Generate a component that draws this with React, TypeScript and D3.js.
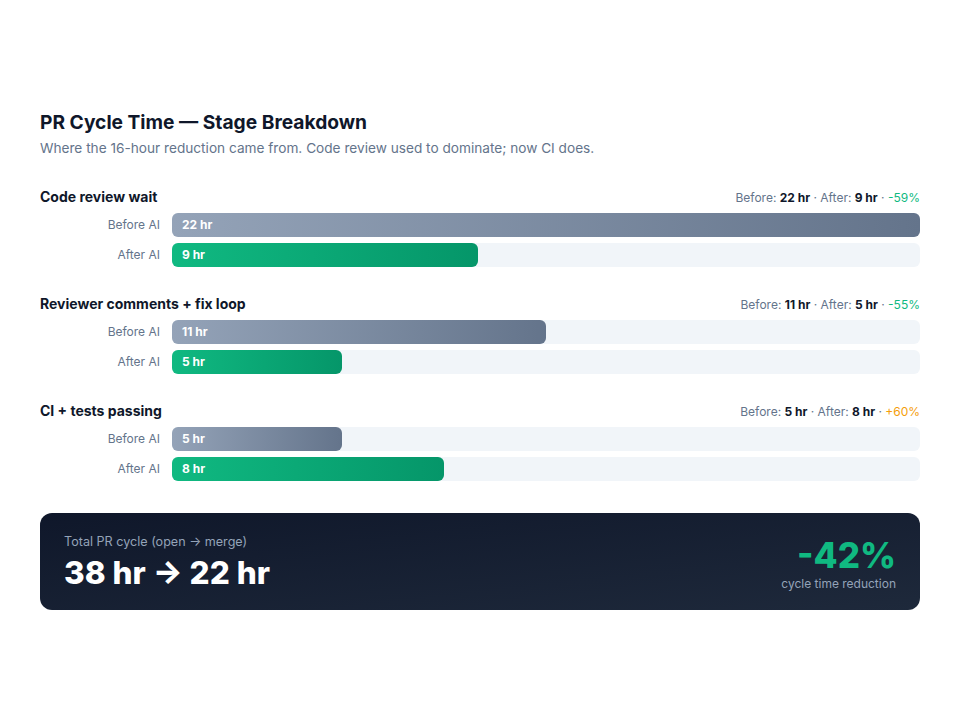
import * as d3 from "d3";

const stages = ["Code review wait", "Reviewer comments + fix loop", "CI + tests passing"];
const beforeHours = [22, 11, 5];
const afterHours = [9, 5, 8];
const rowLabels = ["Before AI", "After AI"];

const W = 960;
const H = 720;
const FONT = "Inter, 'Noto Sans', sans-serif";

const fmtPct = (b: number, a: number) => {
  const p = Math.round(((a - b) / b) * 100);
  return (p > 0 ? "+" : "") + p + "%";
};

const App = () => {
  const left = 40;
  const right = 920;
  const barX0 = 172;
  const groupTop = 184;
  const groupStep = 107;

  const x = d3
    .scaleLinear()
    .domain([0, d3.max(beforeHours.concat(afterHours)) || 0])
    .range([barX0, right]);

  // two rows, 24px bars with a 6px gap
  const rowY = d3.scaleBand<string>().domain(rowLabels).range([29, 83]).paddingInner(0.2);

  const totalBefore = d3.sum(beforeHours);
  const totalAfter = d3.sum(afterHours);

  return (
    <svg
      width={W}
      height={H}
      style={{ position: "absolute", left: 0, top: 0, display: "block" }}
      fontFamily={FONT}
    >
      <defs>
        <linearGradient id="gBefore" x1="0" x2="1" y1="0" y2="0">
          <stop offset="0%" stopColor="#94a3b8" />
          <stop offset="100%" stopColor="#64748b" />
        </linearGradient>
        <linearGradient id="gAfter" x1="0" x2="1" y1="0" y2="0">
          <stop offset="0%" stopColor="#10b981" />
          <stop offset="100%" stopColor="#059669" />
        </linearGradient>
        <linearGradient id="gCard" x1="0" x2="1" y1="0" y2="1">
          <stop offset="0%" stopColor="#0f172a" />
          <stop offset="100%" stopColor="#1e293b" />
        </linearGradient>
      </defs>
      <rect width={W} height={H} fill="#fff" />

      <text x={left} y={129} fontSize={19.2} fontWeight={700} fill="#0f172a">
        PR Cycle Time — Stage Breakdown
      </text>
      <text x={left} y={153} fontSize={13.65} fill="#64748b">
        Where the 16-hour reduction came from. Code review used to dominate; now CI does.
      </text>

      {stages.map((s, i) => {
        const gy = groupTop + i * groupStep;
        const b = beforeHours[i];
        const a = afterHours[i];
        const pct = fmtPct(b, a);
        const vals = [b, a];
        return (
          <g key={s} transform={`translate(0,${gy})`}>
            <text x={left} y={18} fontSize={14} fontWeight={700} fill="#0f172a">
              {s}
            </text>
            <text x={right} y={18} fontSize={12} textAnchor="end" fill="#64748b">
              Before: <tspan fontWeight={700} fill="#0f172a">{b} hr</tspan> · After:{" "}
              <tspan fontWeight={700} fill="#0f172a">{a} hr</tspan> ·{" "}
              <tspan fill={a > b ? "#f59e0b" : "#10b981"}>{pct}</tspan>
            </text>
            {rowLabels.map((r, j) => {
              const y0 = rowY(r)!;
              const h = rowY.bandwidth();
              return (
                <g key={r}>
                  <text
                    x={160}
                    y={y0 + h / 2}
                    dy="0.35em"
                    fontSize={12}
                    textAnchor="end"
                    fill="#64748b"
                  >
                    {r}
                  </text>
                  <rect x={barX0} y={y0} width={right - barX0} height={h} rx={6} fill="#f1f5f9" />
                  <rect
                    x={barX0}
                    y={y0}
                    width={x(vals[j]) - barX0}
                    height={h}
                    rx={6}
                    fill={j === 0 ? "url(#gBefore)" : "url(#gAfter)"}
                  />
                  <text
                    x={barX0 + 10}
                    y={y0 + h / 2}
                    dy="0.35em"
                    fontSize={12}
                    fontWeight={700}
                    fill="#fff"
                  >
                    {vals[j]} hr
                  </text>
                </g>
              );
            })}
          </g>
        );
      })}

      <g transform="translate(0,513)">
        <rect x={left} y={0} width={right - left} height={97} rx={12} fill="url(#gCard)" />
        <text x={64} y={33} fontSize={12.6} fill="#94a3b8">
          Total PR cycle (open → merge)
        </text>
        <text x={64} y={71} fontSize={31.5} fontWeight={800} fill="#fff">
          {totalBefore} hr → {totalAfter} hr
        </text>
        <text x={896} y={55} fontSize={35} fontWeight={800} fill="#10b981" textAnchor="end">
          {fmtPct(totalBefore, totalAfter)}
        </text>
        <text x={896} y={75} fontSize={12} fill="#94a3b8" textAnchor="end">
          cycle time reduction
        </text>
      </g>
    </svg>
  );
};

export default App;
